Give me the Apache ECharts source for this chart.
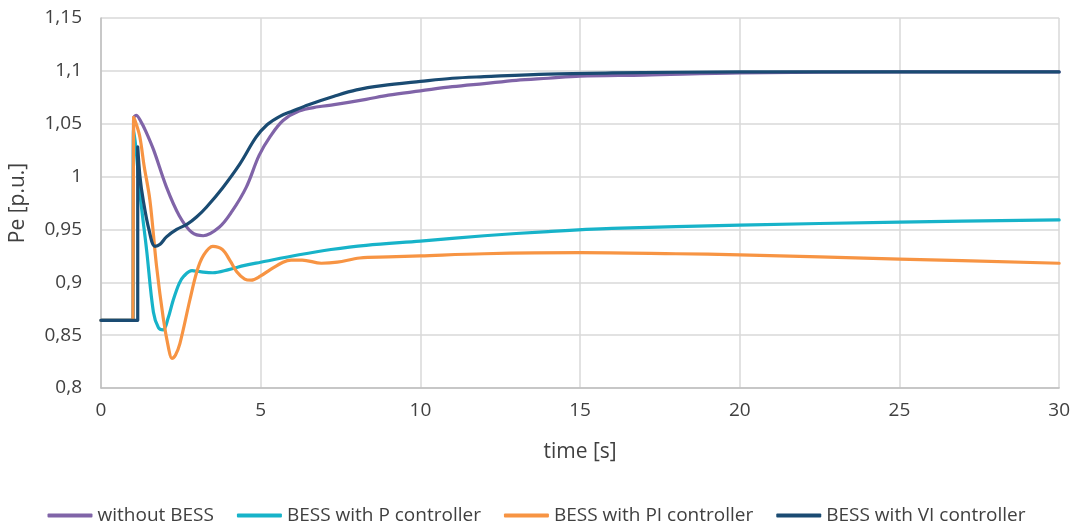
<!DOCTYPE html>
<html>
<head>
<meta charset="utf-8">
<script src="https://cdn.jsdelivr.net/npm/echarts@6/dist/echarts.min.js"></script>
<style>
html,body{margin:0;padding:0;background:#fff;}
#c{width:1073px;height:531px;}
</style>
</head>
<body>
<div id="c"></div>
<script>
var seriesNames = ['without BESS', 'BESS with P controller', 'BESS with PI controller', 'BESS with VI controller'];
var xTicks = [0, 5, 10, 15, 20, 25, 30];
var yTicks = [0.8, 0.85, 0.9, 0.95, 1, 1.05, 1.1, 1.15];

var tWithout = [0, 1.0, 1.02, 1.1, 1.25, 1.4, 1.65, 2.05, 2.45, 2.85, 3.2, 3.7, 4.1, 4.55, 4.95, 5.3, 5.7, 6.2, 6.8, 7.3, 8.3, 9.0, 10, 11, 12, 13, 14, 15, 17, 20, 25, 30];
var vWithout = [0.864, 0.864, 1.055, 1.058, 1.052, 1.043, 1.025, 0.990, 0.963, 0.947, 0.944, 0.952, 0.967, 0.990, 1.020, 1.038, 1.053, 1.062, 1.066, 1.068, 1.073, 1.077, 1.081, 1.085, 1.088, 1.091, 1.093, 1.095, 1.096, 1.098, 1.099, 1.099];

var tP = [0, 1.0, 1.02, 1.1, 1.22, 1.43, 1.64, 1.8, 1.95, 2.1, 2.26, 2.45, 2.6, 2.85, 3.1, 3.5, 4.0, 4.5, 5.0, 6.2, 7.2, 8.3, 10, 12, 14, 16, 20, 25, 30];
var vP = [0.864, 0.864, 1.045, 1.025, 0.984, 0.930, 0.872, 0.857, 0.855, 0.866, 0.883, 0.899, 0.906, 0.911, 0.910, 0.909, 0.912, 0.916, 0.919, 0.926, 0.931, 0.935, 0.939, 0.944, 0.948, 0.951, 0.954, 0.957, 0.959];

var tPI = [0, 1.0, 1.02, 1.1, 1.22, 1.35, 1.53, 1.74, 1.95, 2.12, 2.22, 2.33, 2.47, 2.78, 3.0, 3.2, 3.5, 3.8, 4.05, 4.25, 4.5, 4.7, 5.0, 5.3, 5.7, 5.95, 6.3, 6.9, 7.4, 8.1, 9, 10, 12, 15, 18, 20, 25, 30];
var vPI = [0.864, 0.864, 1.056, 1.050, 1.037, 1.010, 0.978, 0.915, 0.866, 0.837, 0.828, 0.831, 0.842, 0.883, 0.910, 0.925, 0.934, 0.931, 0.920, 0.910, 0.903, 0.902, 0.906, 0.912, 0.919, 0.921, 0.921, 0.918, 0.919, 0.923, 0.924, 0.925, 0.927, 0.928, 0.927, 0.926, 0.922, 0.918];

var tVI = [0, 1.15, 1.15, 1.22, 1.32, 1.5, 1.69, 1.85, 2.05, 2.37, 2.7, 3.0, 3.3, 3.8, 4.35, 4.85, 5.2, 5.6, 6.0, 6.5, 7.3, 8, 8.8, 10, 11, 12, 14, 16, 20, 30];
var vVI = [0.864, 0.864, 1.028, 1.000, 0.978, 0.950, 0.934, 0.936, 0.943, 0.950, 0.955, 0.962, 0.971, 0.989, 1.012, 1.037, 1.049, 1.057, 1.062, 1.068, 1.076, 1.082, 1.086, 1.090, 1.093, 1.0945, 1.097, 1.098, 1.099, 1.099];

var colors = ['#8064a8', '#17b3c9', '#f79443', '#1a4b72'];

function pairs(t, v) { return t.map(function (x, i) { return [x, v[i]]; }); }
var allData = [pairs(tWithout, vWithout), pairs(tP, vP), pairs(tPI, vPI), pairs(tVI, vVI)];

var font = '"Open Sans", sans-serif';
var chart = echarts.init(document.getElementById('c'), null, {renderer: 'canvas'});
chart.setOption({
  animation: false,
  color: colors,
  grid: {left: 101, right: 13, top: 18, bottom: 143, containLabel: false},
  legend: {
    data: seriesNames,
    bottom: 1,
    left: 'center',
    icon: 'roundRect',
    itemWidth: 45,
    itemHeight: 4,
    itemGap: 23,
    textStyle: {fontFamily: font, fontSize: 19, color: '#404040', padding: [0, 0, 0, 0]}
  },
  xAxis: {
    type: 'value', min: 0, max: 30, interval: 5,
    name: 'time [s]', nameLocation: 'middle', nameGap: 54,
    nameTextStyle: {fontFamily: font, fontSize: 21, color: '#404040'},
    axisLine: {show: true, lineStyle: {color: '#bfbfbf', width: 1.5}},
    axisTick: {show: false},
    splitLine: {show: true, lineStyle: {color: '#d9d9d9', width: 1.5}},
    axisLabel: {fontFamily: font, fontSize: 19, color: '#404040', margin: 13,
      formatter: function (v) { return xTicks.indexOf(v) >= 0 ? String(v) : ''; }}
  },
  yAxis: {
    type: 'value', min: 0.8, max: 1.15, interval: 0.05,
    name: 'Pe [p.u.]', nameLocation: 'middle', nameGap: 72, nameRotate: 90,
    nameTextStyle: {fontFamily: font, fontSize: 21, color: '#404040'},
    axisLine: {show: true, lineStyle: {color: '#bfbfbf', width: 1.5}},
    axisTick: {show: false},
    splitLine: {show: true, lineStyle: {color: '#d9d9d9', width: 1.5}},
    axisLabel: {fontFamily: font, fontSize: 19, color: '#404040', margin: 19,
      formatter: function (v) {
        var r = Math.round(v * 100) / 100;
        var ok = yTicks.some(function (y) { return Math.abs(y - r) < 1e-9; });
        return ok ? String(r).replace('.', ',') : '';
      }}
  },
  series: seriesNames.map(function (n, i) {
    return {
      name: n, type: 'line', data: allData[i],
      showSymbol: false, symbol: 'none',
      smooth: 0.35,
      lineStyle: {width: 3.2, color: colors[i], cap: 'round', join: 'round'},
      itemStyle: {color: colors[i]},
      z: i === 3 ? 5 : 2 + i
    };
  })
});
</script>
</body>
</html>
